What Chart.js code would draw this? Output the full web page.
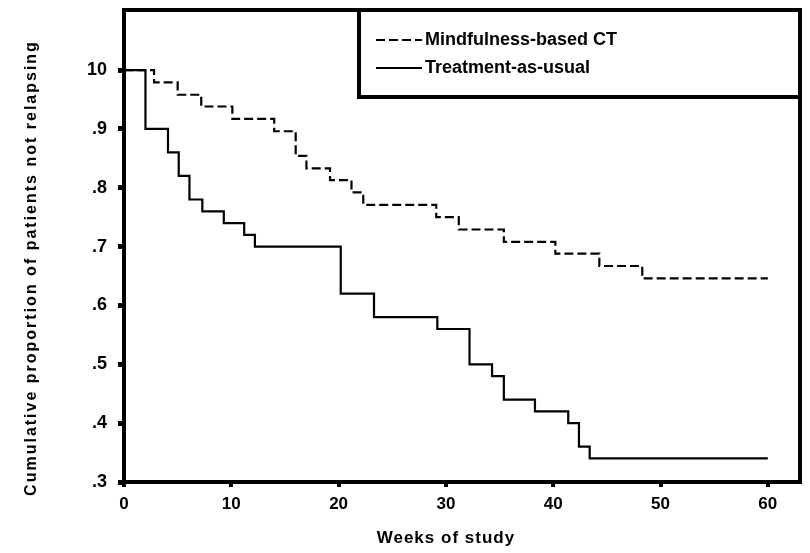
<!DOCTYPE html>
<html>
<head>
<meta charset="utf-8">
<script src="https://cdn.jsdelivr.net/npm/chart.js@4.4.1/dist/chart.umd.min.js"></script>
<style>
    html, body { margin: 0; padding: 0; background: #fff; }
    #wrap { width: 810px; height: 553px; }
</style>
</head>
<body>
<div id="wrap"><canvas id="kmChart" width="810" height="553"></canvas></div>
<script>
// Survival curves (weeks of study vs proportion not relapsing)
const seriesNames = ['Mindfulness-based CT', 'Treatment-as-usual'];

const mbctWeeks = [0, 2.8, 5.0, 7.2, 10.1, 14.0, 16.0, 17.0, 19.2, 21.2, 22.3, 29.1, 31.2, 35.4, 40.2, 44.3, 48.3, 60];
const mbctSurv  = [1.0, 0.979, 0.958, 0.938, 0.917, 0.896, 0.854, 0.833, 0.813, 0.792, 0.771, 0.750, 0.729, 0.708, 0.688, 0.667, 0.646, 0.646];

const tauWeeks = [0, 2.0, 4.1, 5.1, 6.1, 7.3, 9.3, 11.2, 12.2, 20.2, 23.3, 29.2, 32.2, 34.3, 35.4, 38.3, 41.4, 42.4, 43.4, 60];
const tauSurv  = [1.0, 0.90, 0.86, 0.82, 0.78, 0.76, 0.74, 0.72, 0.70, 0.62, 0.58, 0.56, 0.50, 0.48, 0.44, 0.42, 0.40, 0.36, 0.34, 0.34];

const xTickValues = [0, 10, 20, 30, 40, 50, 60];
const yTickValues = [0.3, 0.4, 0.5, 0.6, 0.7, 0.8, 0.9, 1.0];
const yTickLabels = ['.3', '.4', '.5', '.6', '.7', '.8', '.9', '10'];

const xTitle = 'Weeks of study';
const yTitle = 'Cumulative proportion of patients not relapsing';

const FONT = "'Liberation Sans', Arial, sans-serif";

function toPoints(weeks, surv) {
    return weeks.map((w, i) => ({ x: w, y: surv[i] }));
}

// frame, legend box and axis titles
const decorPlugin = {
    id: 'decor',
    afterDraw(chart) {
        const { ctx, chartArea, scales } = chart;
        ctx.save();
        ctx.strokeStyle = '#000';
        ctx.lineWidth = 4;
        ctx.setLineDash([]);
        ctx.strokeRect(chartArea.left, chartArea.top, chartArea.right - chartArea.left, chartArea.bottom - chartArea.top);

        // legend box
        const boxL = 359, boxB = 97;
        ctx.strokeRect(boxL, chartArea.top, chartArea.right - boxL, boxB - chartArea.top);

        const ds = chart.data.datasets;
        const rows = [40, 68];
        ctx.font = 'bold 18px ' + FONT;
        ctx.fillStyle = '#000';
        ctx.textBaseline = 'middle';
        ctx.textAlign = 'left';
        ds.forEach((d, i) => {
            const y = rows[i];
            ctx.lineWidth = 2;
            ctx.setLineDash(d.borderDash || []);
            ctx.beginPath();
            ctx.moveTo(376, y);
            ctx.lineTo(422, y);
            ctx.stroke();
            ctx.setLineDash([]);
            ctx.fillText(d.label, 425, y);
        });

        // axis titles
        ctx.letterSpacing = '1px';
        ctx.font = 'bold 17px ' + FONT;
        ctx.textAlign = 'center';
        const xMid = (scales.x.getPixelForValue(0) + scales.x.getPixelForValue(60)) / 2;
        ctx.fillText(xTitle, xMid, 538);

        ctx.letterSpacing = '2px';
        ctx.font = 'bold 16px ' + FONT;
        ctx.translate(32, 268);
        ctx.rotate(-Math.PI / 2);
        ctx.fillText(yTitle, 0, 0);
        ctx.restore();
    }
};

const ctx = document.getElementById('kmChart');
new Chart(ctx, {
    type: 'line',
    data: {
        datasets: [
            {
                label: seriesNames[0],
                data: toPoints(mbctWeeks, mbctSurv),
                borderColor: '#000',
                borderWidth: 2.2,
                borderDash: [9, 4],
                stepped: 'before',
                pointRadius: 0,
                fill: false
            },
            {
                label: seriesNames[1],
                data: toPoints(tauWeeks, tauSurv),
                borderColor: '#000',
                borderWidth: 2.2,
                stepped: 'before',
                pointRadius: 0,
                fill: false
            }
        ]
    },
    options: {
        responsive: false,
        animation: false,
        devicePixelRatio: 1,
        layout: { padding: { left: 0, top: 10, right: 10, bottom: 0 } },
        plugins: {
            legend: { display: false },
            tooltip: { enabled: false }
        },
        scales: {
            x: {
                type: 'linear',
                min: 0,
                max: 63,
                afterBuildTicks: scale => { scale.ticks = xTickValues.map(v => ({ value: v })); },
                afterFit: scale => {
                    scale.height = 71;
                    scale.paddingLeft = 0;
                    scale.paddingRight = 0;
                },
                border: { display: true, color: '#000', width: 4 },
                grid: { drawOnChartArea: false, color: '#000', lineWidth: 4, tickLength: 5 },
                ticks: {
                    color: '#000',
                    padding: 7,
                    font: { family: FONT, size: 17, weight: 'bold' }
                }
            },
            y: {
                type: 'linear',
                min: 0.3,
                max: 1.102,
                afterBuildTicks: scale => { scale.ticks = yTickValues.map(v => ({ value: v })); },
                afterFit: scale => {
                    scale.width = 124;
                    scale.paddingTop = 0;
                    scale.paddingBottom = 0;
                },
                border: { display: true, color: '#000', width: 4 },
                grid: { drawOnChartArea: false, color: '#000', lineWidth: 5, tickLength: 6 },
                ticks: {
                    color: '#000',
                    padding: 11,
                    font: { family: FONT, size: 18, weight: 'bold' },
                    callback: (value, index) => yTickLabels[index]
                }
            }
        }
    },
    plugins: [decorPlugin]
});
</script>
</body>
</html>
